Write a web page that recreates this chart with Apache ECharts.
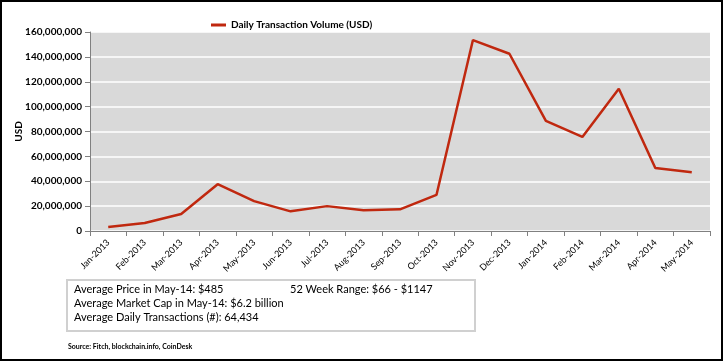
<!DOCTYPE html>
<html><head><meta charset="utf-8">
<script src="https://cdn.jsdelivr.net/npm/echarts@6/dist/echarts.min.js"></script>
<style>html,body{margin:0;padding:0;background:#fff}#c{width:723px;height:361px}</style>
</head><body><div id="c"></div>
<script>
const categories = ['Jan-2013','Feb-2013','Mar-2013','Apr-2013','May-2013','Jun-2013','Jul-2013','Aug-2013','Sep-2013','Oct-2013','Nov-2013','Dec-2013','Jan-2014','Feb-2014','Mar-2014','Apr-2014','May-2014'];
const volume = [3300000,6400000,13600000,37600000,24000000,15800000,20000000,16600000,17400000,29000000,153500000,142500000,88500000,75600000,114300000,50600000,47300000];
const seriesName = 'Daily Transaction Volume (USD)';
const infoLines = ['Average Price in May-14: $485','Average Market Cap in May-14: $6.2 billion','Average Daily Transactions (#): 64,434'];
const infoRight = '52 Week Range: $66 - $1147';
const sourceText = 'Source: Fitch, blockchain.info, CoinDesk';

const font = 'Lato, "Open Sans", sans-serif';
const chart = echarts.init(document.getElementById('c'));
chart.setOption({
  animation: false,
  textStyle: {fontFamily: font},
  legend: {
    data: [seriesName], left: 206, top: 15, icon: 'rect', itemWidth: 15, itemHeight: 3, itemGap: 4,
    textStyle: {fontSize: 10, fontWeight: 'bold', color: '#000', fontFamily: font}
  },
  grid: {left: 90, right: 13, top: 32, bottom: 130, show: true, backgroundColor: '#d9d9d9', borderWidth: 0},
  xAxis: {
    type: 'category', data: categories, boundaryGap: true,
    axisLine: {lineStyle: {color: '#808080', width: 1}},
    axisTick: {show: true, alignWithLabel: false, length: 5, lineStyle: {color: '#808080'}},
    axisLabel: {rotate: 45, fontSize: 9, color: '#000', margin: 10, interval: 0, fontFamily: font}
  },
  yAxis: {
    type: 'value', min: 0, max: 160000000, interval: 20000000,
    name: 'USD', nameLocation: 'middle', nameGap: 66, nameRotate: 90, nameMoveOverlap: false,
    nameTextStyle: {fontSize: 10, fontWeight: 'bold', color: '#000', fontFamily: font},
    axisLine: {show: true, lineStyle: {color: '#808080'}},
    axisTick: {show: true, length: 5, lineStyle: {color: '#808080'}},
    splitLine: {lineStyle: {color: '#ffffff', width: 1.5}},
    axisLabel: {fontSize: 10, fontWeight: 'bold', color: '#000', margin: 8, fontFamily: font,
      formatter: v => v.toLocaleString('en-US')}
  },
  series: [{
    name: seriesName, type: 'line', data: volume, symbol: 'none',
    lineStyle: {color: '#c0280f', width: 2.5}, itemStyle: {color: '#c0280f'}
  }],
  graphic: [
    {type: 'rect', shape: {x: 1, y: 1, width: 721, height: 359}, style: {fill: 'none', stroke: '#000', lineWidth: 2}, silent: true},
    {type: 'rect', shape: {x: 67, y: 280, width: 408, height: 51}, style: {fill: '#fff', stroke: '#d0d0d0', lineWidth: 2}, silent: true},
    {type: 'text', left: 74, top: 284, style: {text: infoLines[0], font: '11px ' + font, fill: '#000'}},
    {type: 'text', left: 74, top: 298, style: {text: infoLines[1], font: '11px ' + font, fill: '#000'}},
    {type: 'text', left: 74, top: 312, style: {text: infoLines[2], font: '11px ' + font, fill: '#000'}},
    {type: 'text', left: 290, top: 284, style: {text: infoRight, font: '11px ' + font, fill: '#000'}},
    {type: 'text', left: 68, top: 343, style: {text: sourceText, font: 'bold 7px ' + font, fill: '#000'}}
  ]
});
</script></body></html>
